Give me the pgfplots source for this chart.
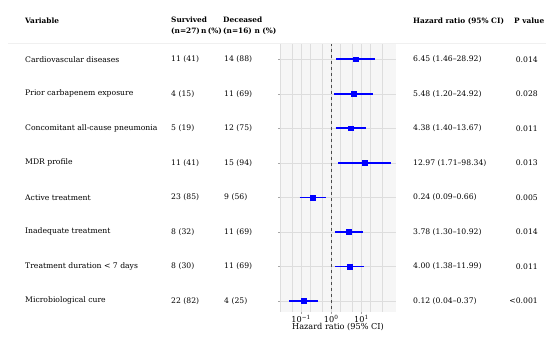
\documentclass[border=0pt]{standalone}
\usepackage{fontspec}
\setmainfont{DejaVu Serif}
\usepackage{pgfplots}
\pgfplotsset{compat=1.18}
\usepackage{pgfplotstable}
\pgfplotstableread{
row hr
0 6.45
1 5.48
2 4.38
3 12.97
4 0.24
5 3.78
6 4.00
7 0.12
}\hrdata
\definecolor{axbg}{HTML}{F6F6F6}
\definecolor{gridc}{HTML}{DDDDDD}
\begin{document}
\begin{tikzpicture}[x=1bp,y=1bp]
\path[use as bounding box] (0,0) rectangle (550,343);
\begin{axis}[
  at={(280bp,31bp)}, anchor=south west,
  width=116bp, height=269bp, scale only axis,
  xmode=log, log basis x=10,
  xmin=0.02, xmax=140,
  ymin=-0.47, ymax=7.32, y dir=reverse,
  axis background/.style={fill=axbg},
  axis line style={draw=none},
  axis on top=false,
  xtick={0.1,1,10},
  xticklabels={10\textsuperscript{−1},10\textsuperscript{0},10\textsuperscript{1}},
  minor xtick={0.02,0.05,0.2,0.5,2,5,20,50},
  ytick={0,...,7}, yticklabels={},
  grid=both,
  major grid style={gridc, line width=0.5bp},
  minor grid style={gridc, line width=0.5bp},
  tick style={draw=gray!70, line width=0.4bp},
  major tick length=2bp, minor tick length=0bp,
  xtick pos=bottom, ytick pos=left,
  tick align=outside,
  xticklabel style={font=\fontsize{8.2}{9}\selectfont, yshift=2bp},
  xlabel={Hazard ratio (95\% CI)},
  xlabel style={font=\fontsize{8.2}{9}\selectfont, yshift=6bp},
  unbounded coords=jump,
  clip=false,
]
\draw[gray!60!black, dashed, line width=0.6bp] (axis cs:1,-0.47) -- (axis cs:1,7.32);
\addplot[blue, line width=1.6bp, mark=none] coordinates {
 (1.46,0) (28.92,0) (nan,nan)
 (1.20,1) (24.92,1) (nan,nan)
 (1.40,2) (13.67,2) (nan,nan)
 (1.71,3) (98.34,3) (nan,nan)
 (0.09,4) (0.66,4) (nan,nan)
 (1.30,5) (10.92,5) (nan,nan)
 (1.38,6) (11.99,6) (nan,nan)
 (0.04,7) (0.37,7)
};
\addplot[only marks, mark=square*, mark size=2.4bp, blue] table[x=hr, y=row] {\hrdata};
\end{axis}
\draw[gray!12, line width=0.5bp] (8,300) -- (546,300);
\tikzset{cell/.style={anchor=west, inner sep=0pt, font=\fontsize{7.7}{8}\selectfont},
         hd/.style={anchor=west, inner sep=0pt, font=\fontsize{7.4}{8}\selectfont\bfseries},
         pv/.style={anchor=east, inner sep=0pt, font=\fontsize{7.7}{8}\selectfont}}
\node[hd] at (25,322) {Variable};
\node[hd] at (171,323) {Survived};
\node[hd] at (171,312) {(n=27)\,n\,(\%)};
\node[hd] at (223,323) {Deceased};
\node[hd] at (223,312) {(n=16)\ n (\%)};
\node[hd] at (413,322) {Hazard ratio (95\% CI)};
\node[hd] at (514,322) {P value};
\foreach \i/\v/\s/\d/\h/\p in {
 0/Cardiovascular diseases/11 (41)/14 (88)/6.45 (1.46--28.92)/0.014,
 1/Prior carbapenem exposure/4 (15)/11 (69)/5.48 (1.20--24.92)/0.028,
 2/Concomitant all-cause pneumonia/5 (19)/12 (75)/4.38 (1.40--13.67)/0.011,
 3/MDR profile/11 (41)/15 (94)/12.97 (1.71--98.34)/0.013,
 4/Active treatment/23 (85)/9 (56)/0.24 (0.09--0.66)/0.005,
 5/Inadequate treatment/8 (32)/11 (69)/3.78 (1.30--10.92)/0.014,
 6/Treatment duration < 7 days/8 (30)/11 (69)/4.00 (1.38--11.99)/0.011,
 7/Microbiological cure/22 (82)/4 (25)/0.12 (0.04--0.37)/<0.001}{
  \pgfmathsetmacro{\yy}{283.7-34.5*\i}
  \node[cell] at (25,\yy) {\v};
  \node[cell] at (171,\yy) {\s};
  \node[cell] at (224,\yy) {\d};
  \node[cell] at (413,\yy) {\h};
  \node[pv] at (538,\yy) {\p};
}
\end{tikzpicture}
\end{document}
